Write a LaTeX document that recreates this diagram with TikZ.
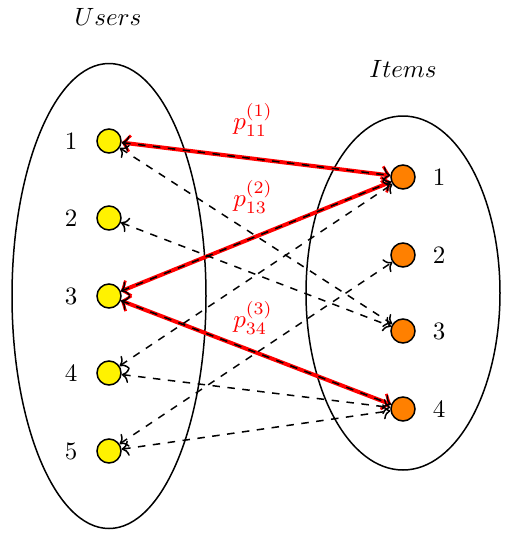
\documentclass[tikz,border=0pt]{standalone}
\usetikzlibrary{shapes.geometric,arrows.meta}
\begin{document}
\begin{tikzpicture}[x=0.4pt,y=-0.4pt,
  user/.style={circle,draw,fill=yellow,line width=0.6pt,minimum size=9.6pt,inner sep=0pt},
  item/.style={circle,draw,fill=orange,line width=0.6pt,minimum size=9.6pt,inner sep=0pt},
  link/.style={<->,dashed,line width=0.6pt},
  redlink/.style={{Straight Barb[line width=1.1pt,length=2.6pt,width=6.5pt]}-{Straight Barb[line width=1.1pt,length=2.6pt,width=6.5pt]},red,line width=1.6pt},
  plab/.style={text=red}]
\useasboundingbox (0,0) rectangle (505,534);
\node[draw,ellipse,line width=0.6pt,minimum width=194*0.4pt,minimum height=465*0.4pt,inner sep=0pt] (UE) at (109,296) {};
\node[draw,ellipse,line width=0.6pt,minimum width=194*0.4pt,minimum height=354*0.4pt,inner sep=0pt] (IE) at (403,293) {};
\node (ut) at (108,17) {$Users$};
\node (it) at (403,69) {$Items$};
\foreach \i/\y in {1/141,2/218,3/296,4/373,5/451}{
  \node[user] (u\i) at (109,\y) {};
  \node (ul\i) at (71,\y) {\i};
}
\foreach \i/\y in {1/177,2/255,3/331,4/409}{
  \node[item] (i\i) at (403,\y) {};
  \node (il\i) at (439,\y) {\i};
}
\draw[redlink] (u1) -- (i1);
\draw[redlink] (u3) -- (i1);
\draw[redlink] (u3) -- (i4);
\draw[link] (u1) -- (i1);
\draw[link] (u3) -- (i1);
\draw[link] (u3) -- (i4);
\draw[link] (u1) -- (i3);
\draw[link] (u2) -- (i3);
\draw[link] (u4) -- (i1);
\draw[link] (u4) -- (i4);
\draw[link] (u5) -- (i2);
\draw[link] (u5) -- (i4);
\node[plab] (p1) at (253,120) {$p_{11}^{(1)}$};
\node[plab] (p2) at (253,197) {$p_{13}^{(2)}$};
\node[plab] (p3) at (253,318) {$p_{34}^{(3)}$};
\end{tikzpicture}
\end{document}
